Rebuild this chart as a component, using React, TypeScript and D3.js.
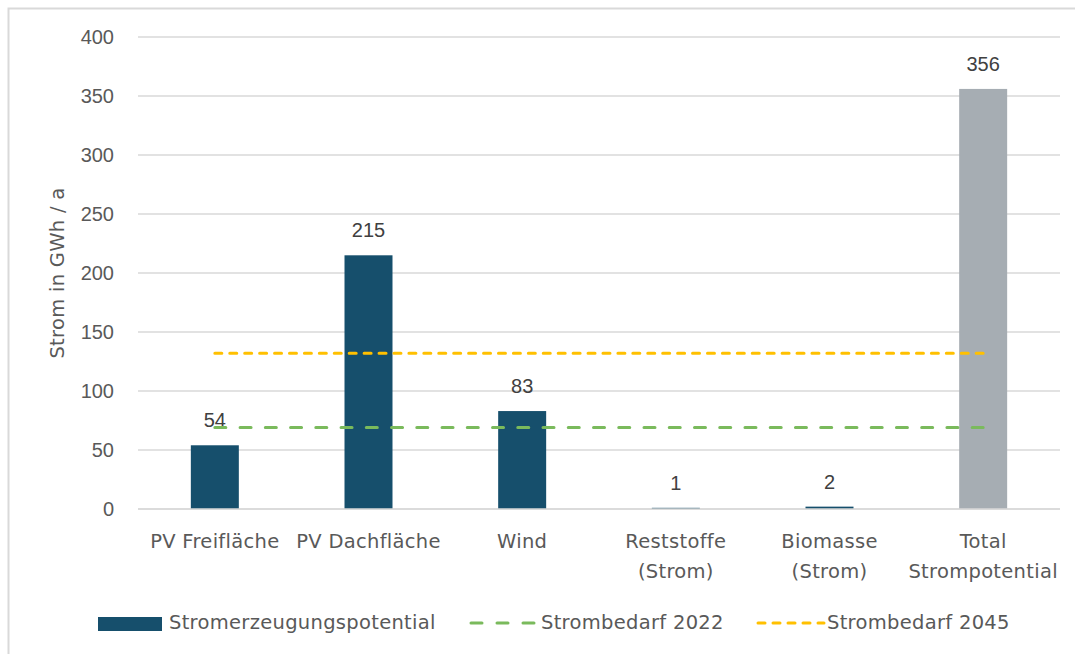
import * as d3 from "d3";

const categories = [
  ["PV Freifläche"],
  ["PV Dachfläche"],
  ["Wind"],
  ["Reststoffe", "(Strom)"],
  ["Biomasse", "(Strom)"],
  ["Total", "Strompotential"],
];
const potential = [54, 215, 83, 1, 2, 356];
const bedarf2022 = 69;
const bedarf2045 = 132;
const yTicks = [0, 50, 100, 150, 200, 250, 300, 350, 400];

const W = 1075;
const H = 654;
const plot = { left: 138, right: 1060, top: 37, bottom: 509 };

const labelFont = "'DejaVu Sans', 'Open Sans', sans-serif";
const numFont = "'Liberation Sans', Arial, sans-serif";
const labelProps = {
  fontFamily: labelFont,
  fontSize: 19.5,
  letterSpacing: 0.3,
  fill: "#595959",
};

export default function App() {
  const keys = categories.map((c) => c.join(" "));
  const x = d3
    .scaleBand<string>()
    .domain(keys)
    .range([plot.left, plot.right])
    .paddingInner(0.6877)
    .paddingOuter(0.6877 / 2);
  const y = d3.scaleLinear().domain([0, 400]).range([plot.bottom, plot.top]);

  const firstC = x(keys[0])! + x.bandwidth() / 2;
  const lastC = x(keys[keys.length - 1])! + x.bandwidth() / 2;
  const len = lastC - firstC;
  // fit dash patterns so each line ends on a dash
  const greenDash = `11 ${(len - 11) / 30 - 11}`;
  const yellowDash = `7 ${(len - 7) / 51 - 7}`;

  return (
    <svg
      width={W}
      height={H}
      style={{ position: "absolute", left: 0, top: 0, background: "#fff" }}
    >
      <rect x={8.5} y={8.5} width={W + 20} height={H + 20} fill="#fff" stroke="#d9d9d9" strokeWidth={2} />

      {/* grid */}
      {yTicks.map((t) => (
        <g key={t}>
          <line
            x1={plot.left}
            x2={plot.right}
            y1={y(t)}
            y2={y(t)}
            stroke="#d9d9d9"
            strokeWidth={1.5}
          />
          <text
            x={114}
            y={y(t) + 7}
            textAnchor="end"
            fontFamily={numFont}
            fontSize={20}
            fill="#595959"
          >
            {t}
          </text>
        </g>
      ))}

      <text
        transform={`translate(64,${(plot.top + plot.bottom) / 2}) rotate(-90)`}
        textAnchor="middle"
        {...labelProps}
      >
        Strom in GWh / a
      </text>

      {/* bars */}
      {potential.map((v, i) => {
        const bx = x(keys[i])!;
        return (
          <g key={keys[i]}>
            <rect
              x={bx}
              y={y(v)}
              width={x.bandwidth()}
              height={plot.bottom - y(v)}
              fill={i === potential.length - 1 ? "#a6adb3" : "#164f6c"}
            />
            <text
              x={bx + x.bandwidth() / 2}
              y={y(v) - 18}
              textAnchor="middle"
              fontFamily={numFont}
              fontSize={20}
              fill="#404040"
            >
              {v}
            </text>
          </g>
        );
      })}

      {/* category labels */}
      {categories.map((lines, i) => (
        <text
          key={keys[i]}
          x={x(keys[i])! + x.bandwidth() / 2}
          textAnchor="middle"
          {...labelProps}
        >
          {lines.map((l, j) => (
            <tspan key={j} x={x(keys[i])! + x.bandwidth() / 2} y={548 + j * 30}>
              {l}
            </tspan>
          ))}
        </text>
      ))}

      {/* demand lines */}
      <line
        x1={firstC}
        x2={lastC}
        y1={y(bedarf2022)}
        y2={y(bedarf2022)}
        stroke="#7aba5c"
        strokeWidth={3}
        strokeDasharray={greenDash}
        strokeLinecap="round"
      />
      <line
        x1={firstC}
        x2={lastC}
        y1={y(bedarf2045)}
        y2={y(bedarf2045)}
        stroke="#ffc000"
        strokeWidth={3}
        strokeDasharray={yellowDash}
        strokeLinecap="round"
      />

      {/* axis */}
      <line
        x1={plot.left}
        x2={plot.right}
        y1={plot.bottom}
        y2={plot.bottom}
        stroke="#d9d9d9"
        strokeWidth={1.5}
      />

      {/* legend */}
      <rect x={98} y={617} width={64} height={14} fill="#164f6c" />
      <text x={169} y={629} {...labelProps}>
        Stromerzeugungspotential
      </text>
      <line x1={471} x2={537} y1={623} y2={623} stroke="#7aba5c" strokeWidth={3} strokeDasharray="11 15" strokeLinecap="round" />
      <text x={541} y={629} {...labelProps}>
        Strombedarf 2022
      </text>
      <line x1={758} x2={824} y1={623} y2={623} stroke="#ffc000" strokeWidth={3} strokeDasharray="7 8" strokeLinecap="round" />
      <text x={827} y={629} {...labelProps}>
        Strombedarf 2045
      </text>
    </svg>
  );
}
